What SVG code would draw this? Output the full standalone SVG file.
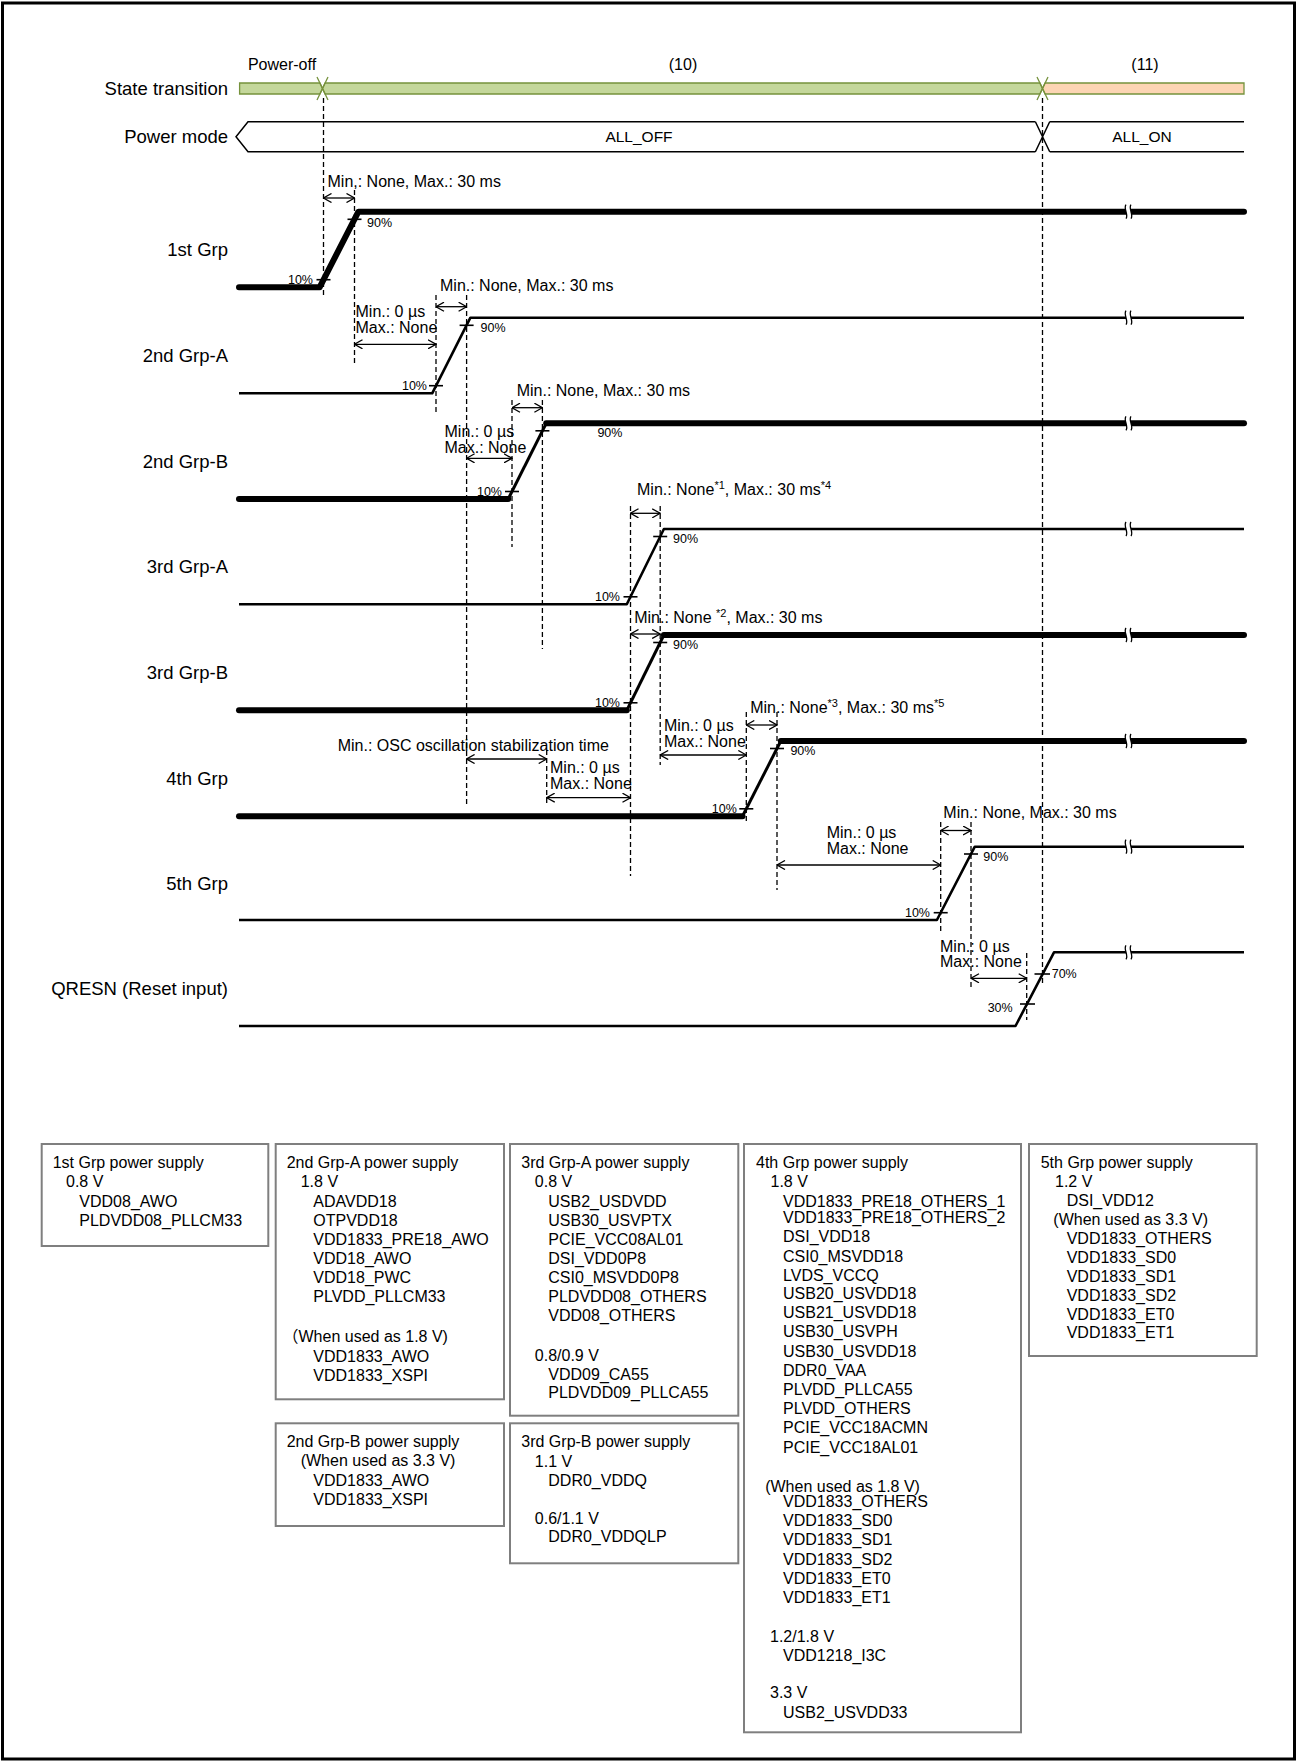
<svg xmlns="http://www.w3.org/2000/svg" xmlns:xlink="http://www.w3.org/1999/xlink" width="1298" height="1762" viewBox="0 0 1298 1762">
<style>
text{font-family:"Liberation Sans",Arial,"Noto Sans CJK JP",sans-serif;fill:#000}
.lbl{font-size:18.5px;text-anchor:end}
.top{font-size:16px;text-anchor:middle}
.mode{font-size:15.5px;text-anchor:middle}
.ann{font-size:16px}
.pct{font-size:12.5px}
.pe{font-size:12.5px;text-anchor:end}
.tbl{font-size:16px}
.thick{fill:none;stroke:#000;stroke-width:6;stroke-linecap:round;stroke-linejoin:round}
.thin{fill:none;stroke:#000;stroke-width:2.6;stroke-linejoin:round}
.rise{fill:none;stroke:#000;stroke-width:3}
.dash{fill:none;stroke:#000;stroke-width:1.3;stroke-dasharray:5 3}
.arr{fill:none;stroke:#000;stroke-width:1.3;marker-start:url(#ah);marker-end:url(#ah)}
.tick{stroke:#000;stroke-width:1.6}
.box{fill:none;stroke:#7f7f7f;stroke-width:2}
.bar{stroke:#76923c;stroke-width:1.3}
.mline{fill:none;stroke:#000;stroke-width:1.5}
</style>
<defs>
<marker id="ah" viewBox="0 0 9 10" refX="8.5" refY="5" markerWidth="9" markerHeight="10" markerUnits="userSpaceOnUse" orient="auto-start-reverse">
<path d="M0.5,0.5 L8.5,5 L0.5,9.5" fill="none" stroke="#000" stroke-width="1.3"/>
</marker>
<g id="brk">
<rect x="-2" y="-5" width="5" height="10" fill="#fff"/>
<path d="M-2,-7 C-5,-3 1,3 -2,7 M3,-7 C0,-3 6,3 3,7" fill="none" stroke="#000" stroke-width="1.3"/>
</g>
</defs>
<rect x="2.5" y="3" width="1292" height="1756" fill="#fff" stroke="#000" stroke-width="3"/>

<g id="state-transition">
<text class="lbl" x="228" y="94.8">State transition</text>
<text class="top" x="282" y="70">Power-off</text>
<text class="top" x="683" y="70">(10)</text>
<text class="top" x="1145" y="70">(11)</text>
<polygon class="bar" fill="#c4d79b" points="239.6,83 319.9,83 322.5,88.5 319.9,94 239.6,94"/>
<polygon class="bar" fill="#c4d79b" points="325.1,83 1039.9,83 1042.5,88.5 1039.9,94 325.1,94 322.5,88.5"/>
<polygon class="bar" fill="#fcd5b4" points="1045.1,83 1244,83 1244,94 1045.1,94 1042.5,88.5"/>
<path class="bar" fill="none" d="M317,77 L328,100 M328,77 L317,100 M1037,77 L1048,100 M1048,77 L1037,100"/>
</g>

<g id="power-mode">
<text class="lbl" x="228" y="142.8">Power mode</text>
<path class="mline" d="M1035.4,121.7 H248 L236,136.7 L248,151.7 H1035.4 M1035.4,121.7 L1049.7,151.7 M1049.7,121.7 L1035.4,151.7 M1049.7,121.7 H1244 M1049.7,151.7 H1244"/>
<text class="mode" x="639" y="142">ALL_OFF</text>
<text class="mode" x="1142" y="142">ALL_ON</text>
</g>

<g id="grp1">
<text class="lbl" x="228" y="255.8">1st Grp</text>
<path class="thick" d="M239,287.3 H319.6 L358.4,211.7 H1244"/>
<line class="tick" x1="316.5" y1="279.7" x2="330.5" y2="279.7"/>
<line class="tick" x1="347.5" y1="219.3" x2="361.5" y2="219.3"/>
<text class="pe" x="313" y="284">10%</text>
<text class="pct" x="367" y="226.7">90%</text>
<use xlink:href="#brk" x="1128" y="211.7"/>
</g>

<g id="grp2a">
<text class="lbl" x="228" y="361.8">2nd Grp-A</text>
<path class="thin" d="M239,393.3 H432.2 L470.4,317.7 H1244"/>
<line class="tick" x1="429" y1="385.7" x2="443" y2="385.7"/>
<line class="tick" x1="459.6" y1="325.3" x2="473.6" y2="325.3"/>
<text class="pe" x="427" y="390">10%</text>
<text class="pct" x="480.6" y="331.7">90%</text>
<use xlink:href="#brk" x="1128" y="317.7"/>
</g>

<g id="grp2b">
<text class="lbl" x="228" y="467.5">2nd Grp-B</text>
<path class="thick" d="M239,499 H508.2"/>
<path class="rise" d="M508.2,499 L546.2,423.3"/>
<path class="thick" d="M546.2,423.3 H1244"/>
<line class="tick" x1="505" y1="491.5" x2="519" y2="491.5"/>
<line class="tick" x1="535.4" y1="430.8" x2="549.4" y2="430.8"/>
<text class="pe" x="502" y="495.8">10%</text>
<text class="pct" x="597.4" y="437">90%</text>
<use xlink:href="#brk" x="1128" y="423.3"/>
</g>

<g id="grp3a">
<text class="lbl" x="228" y="573">3rd Grp-A</text>
<path class="thin" d="M239,604.3 H626.8 L663.9,529 H1244"/>
<line class="tick" x1="623.5" y1="596.8" x2="637.5" y2="596.8"/>
<line class="tick" x1="653.2" y1="536.5" x2="667.2" y2="536.5"/>
<text class="pe" x="620" y="601.2">10%</text>
<text class="pct" x="673" y="543.3">90%</text>
<use xlink:href="#brk" x="1128" y="529"/>
</g>

<g id="grp3b">
<text class="lbl" x="228" y="679">3rd Grp-B</text>
<path class="thick" d="M239,710.3 H626.8"/>
<path class="rise" d="M626.8,710.3 L663.9,635"/>
<path class="thick" d="M663.9,635 H1244"/>
<line class="tick" x1="623.5" y1="702.8" x2="637.5" y2="702.8"/>
<line class="tick" x1="653.2" y1="642.5" x2="667.2" y2="642.5"/>
<text class="pe" x="620" y="707.2">10%</text>
<text class="pct" x="673" y="649">90%</text>
<use xlink:href="#brk" x="1128" y="635"/>
</g>

<g id="grp4">
<text class="lbl" x="228" y="785">4th Grp</text>
<path class="thick" d="M239,816.3 H742.5"/>
<path class="rise" d="M742.5,816.3 L780.8,741"/>
<path class="thick" d="M780.8,741 H1244"/>
<line class="tick" x1="739.3" y1="808.8" x2="753.3" y2="808.8"/>
<line class="tick" x1="770" y1="748.5" x2="784" y2="748.5"/>
<text class="pe" x="736.8" y="813.2">10%</text>
<text class="pct" x="790.4" y="755">90%</text>
<use xlink:href="#brk" x="1128" y="741"/>
</g>

<g id="grp5">
<text class="lbl" x="228" y="889.6">5th Grp</text>
<path class="thin" d="M239,920 H936.9 L974.8,846.7 H1244"/>
<line class="tick" x1="933.7" y1="912.7" x2="947.7" y2="912.7"/>
<line class="tick" x1="964" y1="854" x2="978" y2="854"/>
<text class="pe" x="930" y="917.3">10%</text>
<text class="pct" x="983.3" y="861">90%</text>
<use xlink:href="#brk" x="1128" y="846.7"/>
</g>

<g id="qresn">
<text class="lbl" x="228" y="995.3">QRESN (Reset input)</text>
<path class="thin" d="M239,1026 H1015.5 L1054,952.3 H1244"/>
<line class="tick" x1="1020" y1="1004" x2="1035" y2="1004"/>
<line class="tick" x1="1034.5" y1="974" x2="1050" y2="974"/>
<text class="pe" x="1012.7" y="1011.7">30%</text>
<text class="pct" x="1051.7" y="977.5">70%</text>
<use xlink:href="#brk" x="1128" y="952.3"/>
</g>

<g id="connectors">
<line class="dash" x1="323.5" y1="98" x2="323.5" y2="295"/>
<line class="dash" x1="354.5" y1="190" x2="354.5" y2="363"/>
<line class="dash" x1="436" y1="295" x2="436" y2="415"/>
<line class="dash" x1="466.6" y1="295" x2="466.6" y2="807"/>
<line class="dash" x1="512" y1="400" x2="512" y2="547"/>
<line class="dash" x1="542.4" y1="400" x2="542.4" y2="649"/>
<line class="dash" x1="546.7" y1="750" x2="546.7" y2="805"/>
<line class="dash" x1="630.5" y1="506" x2="630.5" y2="876"/>
<line class="dash" x1="660.2" y1="506" x2="660.2" y2="765"/>
<line class="dash" x1="746.3" y1="712" x2="746.3" y2="822"/>
<line class="dash" x1="777" y1="712" x2="777" y2="890"/>
<line class="dash" x1="940.7" y1="822" x2="940.7" y2="933"/>
<line class="dash" x1="971" y1="822" x2="971" y2="988"/>
<line class="dash" x1="1026.7" y1="953" x2="1026.7" y2="1020"/>
<line class="dash" x1="1042.5" y1="98" x2="1042.5" y2="986"/>

<line class="arr" x1="323.5" y1="198" x2="354.5" y2="198"/>
<line class="arr" x1="354.5" y1="344.3" x2="436" y2="344.3"/>
<line class="arr" x1="436" y1="306.7" x2="466.6" y2="306.7"/>
<line class="arr" x1="466.6" y1="458.3" x2="512" y2="458.3"/>
<line class="arr" x1="512" y1="407.7" x2="542.4" y2="407.7"/>
<line class="arr" x1="630.5" y1="513.3" x2="660.2" y2="513.3"/>
<line class="arr" x1="630.5" y1="634" x2="660.2" y2="634"/>
<line class="arr" x1="466.6" y1="759" x2="546.7" y2="759"/>
<line class="arr" x1="546.7" y1="797.7" x2="630.5" y2="797.7"/>
<line class="arr" x1="660.2" y1="755" x2="746.3" y2="755"/>
<line class="arr" x1="746.3" y1="725" x2="777" y2="725"/>
<line class="arr" x1="777" y1="865" x2="940.7" y2="865"/>
<line class="arr" x1="940.7" y1="830.5" x2="971" y2="830.5"/>
<line class="arr" x1="971" y1="978.3" x2="1026.7" y2="978.3"/>

<text class="ann" x="327.5" y="186.7">Min,: None, Max.: 30 ms</text>
<text class="ann" x="355.5" y="316.7">Min.: 0 µs</text>
<text class="ann" x="355.5" y="332.7">Max.: None</text>
<text class="ann" x="440" y="290.7">Min.: None, Max.: 30 ms</text>
<text class="ann" x="444.5" y="436.7">Min.: 0 µs</text>
<text class="ann" x="444.5" y="452.7">Max.: None</text>
<text class="ann" x="516.7" y="395.7">Min.: None, Max.: 30 ms</text>
<text class="ann" x="637" y="495">Min.: None<tspan font-size="11" dy="-6">*1</tspan><tspan dy="6">, Max.: 30 ms</tspan><tspan font-size="11" dy="-6">*4</tspan></text>
<text class="ann" x="634.2" y="623.3">Min.: None <tspan font-size="11" dy="-6">*2</tspan><tspan dy="6">, Max.: 30 ms</tspan></text>
<text class="ann" x="750.2" y="713.3">Min.: None<tspan font-size="11" dy="-6">*3</tspan><tspan dy="6">, Max.: 30 ms</tspan><tspan font-size="11" dy="-6">*5</tspan></text>
<text class="ann" x="664" y="731">Min.: 0 µs</text>
<text class="ann" x="664" y="747.3">Max.: None</text>
<text class="ann" x="337.7" y="750.7">Min.: OSC oscillation stabilization time</text>
<text class="ann" x="550" y="773.3">Min.: 0 µs</text>
<text class="ann" x="550" y="789.3">Max.: None</text>
<text class="ann" x="826.7" y="838.3">Min.: 0 µs</text>
<text class="ann" x="826.7" y="854">Max.: None</text>
<text class="ann" x="943.3" y="818.3">Min.: None, Max.: 30 ms</text>
<text class="ann" x="940" y="951.7">Min.: 0 µs</text>
<text class="ann" x="940" y="967.3">Max.: None</text>
</g>

<g id="box-1st">
<rect class="box" x="41.7" y="1144" width="226.6" height="102"/>
<text class="tbl" x="52.7" y="1168.3">1st Grp power supply</text>
<text class="tbl" x="66" y="1187.3">0.8 V</text>
<text class="tbl" x="79.3" y="1206.7">VDD08_AWO</text>
<text class="tbl" x="79.3" y="1225.7">PLDVDD08_PLLCM33</text>
</g>

<g id="box-2a">
<rect class="box" x="275.7" y="1144" width="228.3" height="255.3"/>
<text class="tbl" x="286.7" y="1168.3">2nd Grp-A power supply</text>
<text class="tbl" x="300.7" y="1187.3">1.8 V</text>
<text class="tbl" x="313.3" y="1206.7">ADAVDD18</text>
<text class="tbl" x="313.3" y="1225.7">OTPVDD18</text>
<text class="tbl" x="313.3" y="1245">VDD1833_PRE18_AWO</text>
<text class="tbl" x="313.3" y="1264">VDD18_AWO</text>
<text class="tbl" x="313.3" y="1283.3">VDD18_PWC</text>
<text class="tbl" x="313.3" y="1301.7">PLVDD_PLLCM33</text>
<text class="tbl" x="282.5" y="1342.3">（When used as 1.8 V)</text>
<text class="tbl" x="313.3" y="1361.7">VDD1833_AWO</text>
<text class="tbl" x="313.3" y="1380.7">VDD1833_XSPI</text>
</g>

<g id="box-2b">
<rect class="box" x="275.7" y="1423.3" width="228.3" height="102.7"/>
<text class="tbl" x="286.7" y="1447.3">2nd Grp-B power supply</text>
<text class="tbl" x="300.7" y="1466.3">(When used as 3.3 V)</text>
<text class="tbl" x="313.3" y="1485.7">VDD1833_AWO</text>
<text class="tbl" x="313.3" y="1504.7">VDD1833_XSPI</text>
</g>

<g id="box-3a">
<rect class="box" x="510" y="1144" width="228.3" height="271.7"/>
<text class="tbl" x="521.3" y="1168.3">3rd Grp-A power supply</text>
<text class="tbl" x="534.8" y="1187.3">0.8 V</text>
<text class="tbl" x="548.3" y="1206.7">USB2_USDVDD</text>
<text class="tbl" x="548.3" y="1225.7">USB30_USVPTX</text>
<text class="tbl" x="548.3" y="1245">PCIE_VCC08AL01</text>
<text class="tbl" x="548.3" y="1264">DSI_VDD0P8</text>
<text class="tbl" x="548.3" y="1283.3">CSI0_MSVDD0P8</text>
<text class="tbl" x="548.3" y="1301.7">PLDVDD08_OTHERS</text>
<text class="tbl" x="548.3" y="1321">VDD08_OTHERS</text>
<text class="tbl" x="534.8" y="1360.7">0.8/0.9 V</text>
<text class="tbl" x="548.3" y="1380">VDD09_CA55</text>
<text class="tbl" x="548.3" y="1398.3">PLDVDD09_PLLCA55</text>
</g>

<g id="box-3b">
<rect class="box" x="510" y="1423.3" width="228.3" height="140"/>
<text class="tbl" x="521.3" y="1447.3">3rd Grp-B power supply</text>
<text class="tbl" x="534.8" y="1466.7">1.1 V</text>
<text class="tbl" x="548.3" y="1485.7">DDR0_VDDQ</text>
<text class="tbl" x="534.8" y="1524">0.6/1.1 V</text>
<text class="tbl" x="548.3" y="1542.3">DDR0_VDDQLP</text>
</g>

<g id="box-4th">
<rect class="box" x="744" y="1144" width="277" height="588.3"/>
<text class="tbl" x="756" y="1168.3">4th Grp power supply</text>
<text class="tbl" x="770.5" y="1187.3">1.8 V</text>
<text class="tbl" x="783" y="1206.7">VDD1833_PRE18_OTHERS_1</text>
<text class="tbl" x="783" y="1223.3">VDD1833_PRE18_OTHERS_2</text>
<text class="tbl" x="783" y="1242.3">DSI_VDD18</text>
<text class="tbl" x="783" y="1261.7">CSI0_MSVDD18</text>
<text class="tbl" x="783" y="1280.7">LVDS_VCCQ</text>
<text class="tbl" x="783" y="1299.3">USB20_USVDD18</text>
<text class="tbl" x="783" y="1318.3">USB21_USVDD18</text>
<text class="tbl" x="783" y="1337.3">USB30_USVPH</text>
<text class="tbl" x="783" y="1356.7">USB30_USVDD18</text>
<text class="tbl" x="783" y="1375.7">DDR0_VAA</text>
<text class="tbl" x="783" y="1395">PLVDD_PLLCA55</text>
<text class="tbl" x="783" y="1414">PLVDD_OTHERS</text>
<text class="tbl" x="783" y="1433.3">PCIE_VCC18ACMN</text>
<text class="tbl" x="783" y="1452.5">PCIE_VCC18AL01</text>
<text class="tbl" x="765.2" y="1491.7">(When used as 1.8 V)</text>
<text class="tbl" x="783" y="1506.7">VDD1833_OTHERS</text>
<text class="tbl" x="783" y="1526.2">VDD1833_SD0</text>
<text class="tbl" x="783" y="1545.3">VDD1833_SD1</text>
<text class="tbl" x="783" y="1565">VDD1833_SD2</text>
<text class="tbl" x="783" y="1584">VDD1833_ET0</text>
<text class="tbl" x="783" y="1602.7">VDD1833_ET1</text>
<text class="tbl" x="770" y="1641.7">1.2/1.8 V</text>
<text class="tbl" x="783" y="1661">VDD1218_I3C</text>
<text class="tbl" x="770" y="1698.3">3.3 V</text>
<text class="tbl" x="783" y="1718.3">USB2_USVDD33</text>
</g>

<g id="box-5th">
<rect class="box" x="1029" y="1144" width="227.7" height="212"/>
<text class="tbl" x="1040.7" y="1168.3">5th Grp power supply</text>
<text class="tbl" x="1055" y="1186.7">1.2 V</text>
<text class="tbl" x="1066.7" y="1206">DSI_VDD12</text>
<text class="tbl" x="1053.3" y="1225">(When used as 3.3 V)</text>
<text class="tbl" x="1066.7" y="1244.3">VDD1833_OTHERS</text>
<text class="tbl" x="1066.7" y="1263.3">VDD1833_SD0</text>
<text class="tbl" x="1066.7" y="1282.3">VDD1833_SD1</text>
<text class="tbl" x="1066.7" y="1301">VDD1833_SD2</text>
<text class="tbl" x="1066.7" y="1320">VDD1833_ET0</text>
<text class="tbl" x="1066.7" y="1338.3">VDD1833_ET1</text>
</g>
</svg>
